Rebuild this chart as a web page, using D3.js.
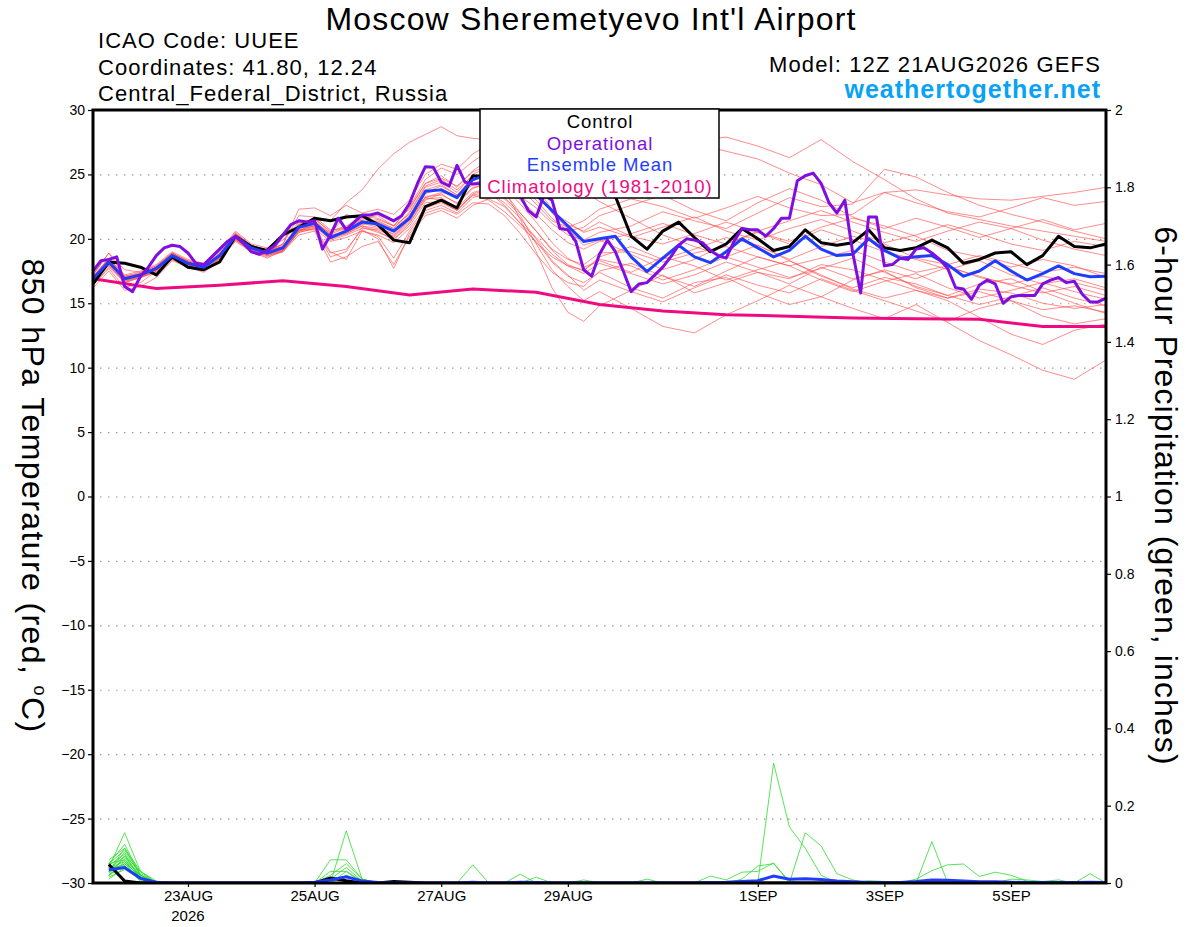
<!DOCTYPE html>
<html>
<head>
<meta charset="utf-8">
<script src="https://cdn.jsdelivr.net/npm/d3@7"></script>
<style>
  body { margin: 0; background: #fff; }
  svg { display: block; font-family: "Liberation Sans", Arial, sans-serif; }
  .tick text { font-family: "Liberation Sans Narrow", "Liberation Sans", Arial, sans-serif; }
</style>
</head>
<body>
<div id="chart"></div>
<script>
// ---- data ----
// hours since 12Z 21AUG2026
const startTime = Date.UTC(2026, 7, 21, 12);

const tempTicks = [-30, -25, -20, -15, -10, -5, 0, 5, 10, 15, 20, 25, 30];
const gridTicks = [-25, -20, -15, -10, -5, 0, 5, 10, 15, 20, 25];
const precipTicks = [0, 0.2, 0.4, 0.6, 0.8, 1, 1.2, 1.4, 1.6, 1.8, 2];
const dateTicks = ["2026-08-23", "2026-08-25", "2026-08-27", "2026-08-29", "2026-09-01", "2026-09-03", "2026-09-05"];
const dateLabels = ["23AUG", "25AUG", "27AUG", "29AUG", "1SEP", "3SEP", "5SEP"];

// 6-hourly, 0..384h
const controlTemp = [16.5,18.2,18.1,17.8,17.2,18.6,17.8,17.6,18.2,20.2,19.4,19.1,20.3,20.9,21.6,21.4,21.7,21.8,21.1,19.9,19.7,22.5,23.0,22.4,24.9,24.8,25.0,24.6,24.3,24.0,23.8,23.6,23.4,23.3,20.2,19.2,20.6,21.3,20.1,19.0,19.6,20.8,20.0,19.1,19.4,20.7,19.7,19.5,19.7,20.7,19.3,19.1,19.3,19.9,19.3,18.1,18.4,18.9,19.0,18.0,18.7,20.2,19.4,19.3,19.6];
const meanTemp = [16.9,18.2,16.9,17.2,17.7,18.7,18.1,17.8,18.7,20.2,19.3,18.9,19.3,20.9,21.2,20.1,20.6,21.3,21.15,20.6,21.6,23.7,23.8,23.2,24.6,25.0,25.0,24.3,23.4,22.2,21.0,19.8,20.0,20.2,18.6,17.45,18.5,19.5,18.6,18.15,19.0,20.0,19.3,18.6,19.1,20.2,19.2,18.7,18.8,20.0,19.1,18.5,18.6,18.7,18.0,17.1,17.5,18.3,17.5,16.8,17.3,17.9,17.3,17.06,17.1];

// 3-hourly, 0..384h
const operationalTemp = [17.5,18.3,18.4,18.6,16.3,15.9,17.1,17.8,18.7,19.3,19.5,19.4,18.9,18.1,18.0,18.6,19.2,19.8,20.2,19.65,19.0,18.8,19.1,19.5,20.3,21.1,21.4,21.3,21.4,19.2,20.3,21.6,20.7,
  21.3,21.85,21.85,22.0,21.7,21.4,21.8,22.75,24.3,25.6,25.55,24.4,24.1,25.7,24.4,24.25,24.3,
  24.6,24.9,24.7,24.0,23.3,22.2,21.7,23.4,23.0,20.8,20.7,19.8,17.6,17.1,18.8,
  19.9,19.0,17.5,15.9,16.5,16.6,17.2,17.8,18.6,19.5,20.0,19.9,19.7,19.1,18.7,18.5,19.8,20.8,20.7,20.7,20.2,20.8,21.6,21.6,24.5,24.9,25.1,24.3,22.8,22.0,23.0,18.9,15.8,21.7,21.7,17.9,18.0,18.5,18.4,19.2,19.3,18.9,18.4,17.7,16.2,16.1,15.3,16.4,16.8,16.5,15.0,15.5,15.6,15.6,15.6,16.5,16.8,17.0,16.6,16.7,15.7,15.1,15.1,15.4];

// daily at 12Z
const climatologyTemp = [16.9,16.15,16.4,16.75,16.3,15.65,16.1,15.85,14.9,14.4,14.1,14.0,13.85,13.8,13.75,13.2,13.2];

// members: 6-hourly to 192h, then 12-hourly to 384h (49 values each)
const memberTemps = [
  [17.0,18.5,17.2,17.5,18.0,19.0,18.4,18.1,19.0,20.6,19.6,19.3,19.9, 21.3,21.5,21.4,22.8,23.8,25.4,26.6,27.5,28.1,28.7,28.0,27.8,27.7,27.6,27.3,27.0,26.8,26.6,26.9,27.2, 27.5,27.9,27.4,26.8,26.2,25.1,24.2,22.8,23.6,23.8,23.4,23.1,23.0,23.3,23.6,24.0],
  [16.7,18.0,16.8,17.0,17.5,18.5,18.0,17.6,18.5,20.0,19.1,18.8,19.0, 20.6,21.0,20.0,20.8,21.6,21.8,21.0,22.5,24.6,25.5,25.0,26.0,26.8,27.2,26.5,25.8,24.9,25.5,26.4,26.0, 26.8,27.2,27.6,27.9,27.2,26.3,27.7,26.0,24.6,23.1,22.0,21.5,21.0,20.6,20.2,19.8],
  [16.2,17.5,16.0,16.3,17.0,18.3,17.8,17.4,18.3,19.9,19.0,18.5,19.1, 20.5,20.8,18.6,19.0,20.9,20.5,20.0,21.0,22.8,22.9,22.2,23.4,23.0,22.1,21.0,19.8,18.2,17.1,16.6,17.4, 16.2,15.4,16.6,17.0,15.8,14.9,15.5,14.6,13.8,14.9,13.5,12.1,11.0,9.8,9.1,10.6],
  [17.2,18.9,17.1,17.4,17.9,18.9,18.3,18.0,18.9,20.5,19.5,19.1,19.5, 21.1,21.3,20.3,20.4,21.0,20.6,19.9,21.2,23.0,23.5,22.7,23.9,24.4,23.8,21.5,19.0,16.2,14.3,13.6,14.8, 16.0,17.2,15.8,16.6,17.4,16.5,17.8,16.9,17.5,16.2,15.4,15.9,15.2,14.5,14.8,14.3],
  [16.9,18.3,16.9,17.3,17.6,18.8,18.2,17.9,18.6,20.3,19.4,19.0,19.4, 21.0,21.6,20.5,20.9,21.8,21.9,21.3,22.3,24.3,24.9,24.0,25.3,26.1,25.9,24.7,23.6,22.0,20.8,19.5,19.9, 18.8,17.6,18.4,19.6,20.5,19.8,20.9,21.6,21.0,20.2,19.1,18.6,17.8,18.4,17.9,17.0],
  [16.4,17.8,16.6,17.0,17.4,18.4,17.9,17.5,18.4,19.8,19.0,18.6,19.0, 20.3,20.6,18.2,18.6,19.4,19.8,18.0,20.2,21.8,22.2,21.6,22.6,23.1,22.5,21.2,20.1,18.8,17.9,17.3,18.1, 17.3,16.5,17.2,18.2,17.4,16.9,18.0,17.6,16.8,16.0,15.4,16.1,15.8,15.0,14.6,14.9],
  [17.1,18.4,17.0,17.1,17.8,18.9,18.2,17.9,18.8,20.4,19.5,19.0,19.6, 22.3,22.4,21.8,22.6,22.0,22.3,21.9,23.0,25.0,25.8,25.4,26.6,27.3,26.8,25.6,24.0,22.3,21.1,20.6,21.3, 20.2,19.6,20.4,21.3,20.5,19.6,20.7,19.9,19.0,18.4,17.6,18.3,17.2,16.5,16.9,16.2],
  [16.8,18.1,16.7,17.1,17.6,18.6,18.0,17.7,18.6,20.1,19.2,18.8,19.2, 20.8,21.0,19.9,20.3,20.8,20.7,20.2,21.4,23.3,23.4,22.8,24.0,24.2,23.6,22.0,20.6,19.1,18.0,17.5,18.6, 19.4,18.4,19.2,20.1,19.5,18.4,19.4,20.2,19.6,18.5,18.0,18.7,18.1,17.4,17.8,17.3],
  [17.0,18.2,16.9,17.2,17.7,18.7,18.1,17.8,18.8,20.2,19.3,18.9,19.3, 21.0,21.3,20.4,21.9,21.4,21.1,20.6,21.7,23.6,24.1,23.4,24.8,25.3,24.6,23.3,22.4,21.2,20.3,19.9,20.5, 21.0,22.1,21.4,20.8,22.0,23.2,22.5,22.7,25.4,24.8,23.6,22.6,21.9,21.3,20.6,20.0],
  [16.4,17.7,16.2,16.6,17.5,18.5,17.9,17.6,18.5,20.0,19.1,18.7,19.1, 20.6,20.9,19.0,18.4,20.6,20.2,18.5,20.6,22.2,22.6,22.0,23.2,23.6,22.8,21.6,20.0,18.3,17.2,16.0,16.8, 15.9,15.1,16.2,17.2,16.4,15.8,16.9,16.0,15.2,14.4,13.6,14.6,15.2,14.0,13.4,13.8],
  [17.1,18.5,17.1,17.3,17.8,18.8,18.2,17.9,18.7,20.3,19.4,19.1,19.4, 21.2,21.4,20.2,20.6,21.2,20.9,20.1,21.3,23.1,23.2,22.4,23.6,23.9,23.1,21.8,19.6,17.6,16.3,15.2,15.9, 14.6,13.2,12.7,14.1,15.2,16.4,15.5,16.8,17.6,16.9,17.8,17.1,16.4,15.8,16.3,15.6],
  [16.9,18.3,16.8,17.2,17.8,18.7,18.1,17.8,18.8,20.3,19.2,18.9,19.3, 21.0,21.2,20.1,20.5,21.1,21.4,20.8,22.0,24.0,24.4,23.6,25.0,25.6,25.3,24.2,23.0,21.6,20.6,20.9,21.8, 22.6,23.4,22.2,21.4,22.8,23.9,23.0,21.7,20.8,21.6,20.9,20.1,20.8,21.5,20.7,21.2],
  [16.7,18.1,16.9,17.1,17.6,18.6,18.1,17.8,18.6,20.1,19.3,18.9,19.3, 20.7,20.7,18.9,19.2,20.7,20.0,17.7,20.4,22.0,22.4,21.9,22.8,22.7,21.8,20.4,18.8,17.4,16.6,16.3,17.5, 18.1,17.1,16.3,17.5,18.6,17.9,16.8,15.9,16.7,17.3,16.2,15.4,16.0,16.6,15.9,15.3],
  [16.8,18.4,17.0,17.3,17.7,18.8,18.2,17.7,18.7,20.2,19.3,19.0,19.4, 21.1,21.5,20.6,21.0,21.7,21.6,21.0,22.4,24.3,24.7,24.1,25.2,25.7,25.2,23.9,22.7,21.4,20.9,21.4,22.3, 23.1,22.5,21.6,22.4,23.3,22.4,21.8,21.9,23.6,22.8,22.1,21.7,22.4,23.2,22.6,22.9],
  [17.0,18.2,16.8,17.2,17.6,18.6,18.0,17.8,18.6,20.0,19.2,18.8,19.2, 20.7,21.0,20.0,20.4,21.0,20.8,20.4,21.6,23.5,23.9,23.2,24.3,24.7,24.0,22.7,21.3,19.7,18.5,17.8,18.3, 17.4,18.6,17.9,16.8,17.6,18.3,17.2,16.1,15.4,16.0,15.2,13.9,12.6,11.8,12.9,13.4],
  [16.6,18.0,16.6,17.0,17.6,18.5,17.9,17.6,18.5,20.1,19.2,18.8,19.1, 20.6,21.2,20.3,20.6,21.3,21.5,21.0,21.9,23.2,23.6,23.3,24.2,24.8,24.8,24.2,23.3,22.1,21.3,20.5,20.9, 20.1,20.9,21.7,20.6,19.9,20.8,21.5,20.6,19.7,20.3,21.1,20.4,19.6,19.1,19.8,19.4],
  [17.2,18.9,17.6,17.4,17.9,18.9,18.3,18.0,18.8,20.4,19.5,19.1,19.6, 21.8,21.7,20.7,20.8,21.4,21.0,20.3,21.5,23.2,23.0,22.3,23.4,23.6,22.6,21.2,19.7,18.6,17.9,17.6,18.4, 17.9,16.8,17.6,18.6,17.8,17.0,17.7,18.5,17.4,16.3,15.6,16.5,16.9,15.9,15.0,14.2],
  [16.9,18.2,16.9,17.1,17.7,18.7,18.0,17.9,18.7,20.2,19.3,18.9,19.2, 20.9,21.1,20.1,20.6,21.3,21.2,20.7,21.8,23.8,24.2,23.4,24.6,25.5,26.0,26.3,26.1,25.4,24.3,23.7,22.9, 21.6,20.3,19.4,18.6,19.5,18.3,17.1,16.2,17.0,16.5,15.6,14.9,15.5,16.2,15.4,14.8],
  [17.0,18.4,17.0,17.2,17.8,18.8,18.1,17.8,18.8,20.3,19.3,18.9,19.4, 21.0,21.4,20.4,20.8,21.5,21.3,20.8,22.1,24.1,24.6,23.8,24.9,25.0,24.2,23.0,21.9,20.7,19.7,19.2,19.8, 20.4,21.2,20.3,19.6,20.6,21.4,22.2,21.3,20.5,19.8,20.6,21.3,20.8,19.9,19.2,18.7],
  [16.7,17.9,16.7,17.0,17.5,18.4,17.9,17.6,18.4,19.9,19.1,18.7,19.0, 20.5,20.8,19.8,20.1,20.6,20.3,19.7,20.8,22.4,22.8,22.2,23.5,23.8,23.2,22.0,20.6,19.2,18.4,18.0,18.9, 19.0,18.2,18.9,19.4,18.6,17.9,18.5,19.1,18.2,17.4,17.9,17.0,16.5,17.1,16.6,16.0]
];

// 6-hour precipitation (inches), steps 1..64 (6h each)
const controlPrecip = [0.048,0.005,0,0,0,0,0,0,0,0,0,0,0,0,0.013,0.006,0,0,0.004,0.002,
  0,0,0,0,0,0,0,0,0,0,0,0,0,0,0,0,0,0,0,0,0,0,0,0,0,0,0,0,0,0,0,0,0,0,0,0,0,0,0,0,0,0,0,0];
const meanPrecip = [0.034,0.040,0.012,0.002, 0,0,0,0,0,0,0,0,0, 0.002,0.008,0.016,0.005,0.001, 0,0,0,0,0,
  0.002,0,0,0.002,0.001, 0,0,0,0,0,0,0,0,0,0,
  0.001,0.002,0.004,0.006,0.018,0.010,0.011,0.009,0.005,0.003,0.001,0.001,0.001,0.004,0.008,0.007,0.005,0.003,0.003,0.002,0.001,0.001,0.001,0.001,0.002,0.001];
// members: [step, inches], zero stretches only marked at their ends
const memberPrecip = [
  [[1,0.04],[2,0.13],[3,0.03],[4,0],[14,0],[15,0.06],[16,0.06],[17,0.01],[18,0],[64,0]],
  [[1,0.06],[2,0.09],[3,0.02],[4,0],[15,0],[16,0.135],[17,0.01],[18,0],[64,0]],
  [[1,0.03],[2,0.08],[3,0.02],[4,0],[14,0],[15,0.02],[16,0.05],[17,0.01],[18,0],[64,0]],
  [[1,0.02],[2,0.07],[3,0.03],[4,0.005],[5,0],[14,0],[15,0.01],[16,0.04],[17,0.005],[18,0],[23,0],[24,0.047],[25,0],[64,0]],
  [[1,0.05],[2,0.06],[3,0.02],[4,0],[14,0],[15,0.03],[16,0.03],[17,0],[26,0],[27,0.023],[28,0],[64,0]],
  [[1,0.03],[2,0.05],[3,0.01],[4,0],[15,0],[16,0.02],[17,0],[27,0],[28,0.015],[29,0],[42,0],[43,0.31],[44,0.145],[45,0.09],[46,0.02],[47,0],[64,0]],
  [[1,0.04],[2,0.055],[3,0.015],[4,0],[15,0],[16,0.03],[17,0.005],[18,0],[44,0],[45,0.13],[46,0.096],[47,0.024],[48,0.008],[49,0],[64,0]],
  [[1,0.01],[2,0.04],[3,0.01],[4,0],[38,0],[39,0.018],[40,0.008],[41,0.028],[42,0.03],[43,0.052],[44,0],[64,0]],
  [[1,0.02],[2,0.05],[3,0.02],[4,0],[40,0],[41,0.01],[42,0.044],[43,0.05],[44,0.005],[45,0],[52,0],[53,0.107],[54,0],[64,0]],
  [[1,0.03],[2,0.06],[3,0.01],[4,0],[51,0],[52,0.01],[53,0.032],[54,0.047],[55,0.049],[56,0.017],[57,0.028],[58,0.02],[59,0.005],[60,0],[64,0]],
  [[1,0.05],[2,0.1],[3,0.02],[4,0],[30,0],[31,0.008],[32,0],[62,0],[63,0.024],[64,0]],
  [[1,0.02],[2,0.045],[3,0.005],[4,0],[34,0],[35,0.01],[36,0],[48,0],[49,0.006],[50,0.004],[51,0],[57,0],[58,0.01],[59,0.008],[60,0.004],[61,0.008],[62,0],[64,0]],
  [[1,0.035],[2,0.07],[3,0.015],[4,0],[64,0]],
  [[1,0.025],[2,0.065],[3,0.02],[4,0],[64,0]],
  [[1,0.045],[2,0.075],[3,0.01],[4,0],[64,0]],
  [[1,0.015],[2,0.035],[3,0.01],[4,0],[64,0]],
  [[1,0.05],[2,0.085],[3,0.025],[4,0],[64,0]],
  [[1,0.02],[2,0.055],[3,0.015],[4,0],[64,0]],
  [[1,0.04],[2,0.045],[3,0.005],[4,0],[64,0]],
  [[1,0.03],[2,0.09],[3,0.03],[4,0],[64,0]]
];

// ---- chart ----
const width = 1200;
const height = 927;
const plot = { left: 93, right: 1106, top: 110, bottom: 883 };

const toDate = (h) => new Date(startTime + h * 3600e3);
const memberHours = d3.range(0, 193, 6).concat(d3.range(204, 385, 12));

const xScale = d3.scaleUtc()
    .domain([toDate(0), toDate(384)])
    .range([plot.left, plot.right]);
const yTemp = d3.scaleLinear().domain([-30, 30]).range([plot.bottom, plot.top]);
const yPrecip = d3.scaleLinear().domain([0, 2]).range([plot.bottom, plot.top]);

const svg = d3.select("#chart").append("svg")
    .attr("width", width)
    .attr("height", height);

svg.append("clipPath").attr("id", "plot-clip")
    .append("rect")
    .attr("x", plot.left).attr("y", plot.top)
    .attr("width", plot.right - plot.left).attr("height", plot.bottom - plot.top);

// gridlines
svg.append("g")
    .attr("class", "gridlines")
    .attr("transform", `translate(${plot.left + 7},0)`)
    .call(d3.axisLeft(yTemp).tickValues(gridTicks).tickFormat("").tickSize(-(plot.right - plot.left - 7)))
    .call(g => g.select(".domain").remove())
    .call(g => g.selectAll("line").attr("stroke", "#9a9a9a").attr("stroke-width", 1.2).attr("stroke-dasharray", "1.5,6.5"));

const lines = svg.append("g").attr("clip-path", "url(#plot-clip)");

const tempLine = (hours) => d3.line()
    .x((d, i) => xScale(toDate(hours[i])))
    .y(d => yTemp(d));

// ensemble members, temperature
lines.append("g").selectAll("path")
    .data(memberTemps)
    .join("path")
    .attr("d", tempLine(memberHours))
    .attr("fill", "none")
    .attr("stroke", "#ff4a4a")
    .attr("stroke-opacity", 0.85)
    .attr("stroke-width", 0.75);

// ensemble members, precipitation
const precipPairLine = d3.line()
    .x(d => xScale(toDate(d[0] * 6)))
    .y(d => yPrecip(d[1]));

lines.append("g").selectAll("path")
    .data(memberPrecip)
    .join("path")
    .attr("d", precipPairLine)
    .attr("fill", "none")
    .attr("stroke", "#2fdc2f")
    .attr("stroke-width", 0.8);

const precipLine = d3.line()
    .x((d, i) => xScale(toDate((i + 1) * 6)))
    .y(d => yPrecip(d));

// climatology
const climHours = climatologyTemp.map((d, i) => i * 24);
lines.append("path")
    .datum(climatologyTemp)
    .attr("d", tempLine(climHours))
    .attr("fill", "none")
    .attr("stroke", "#ef0a82")
    .attr("stroke-width", 3);

// control
const sixHours = controlTemp.map((d, i) => i * 6);
lines.append("path")
    .datum(controlTemp)
    .attr("d", tempLine(sixHours))
    .attr("fill", "none")
    .attr("stroke", "#000")
    .attr("stroke-width", 3)
    .attr("stroke-linejoin", "round");

lines.append("path")
    .datum(controlPrecip)
    .attr("d", precipLine)
    .attr("fill", "none")
    .attr("stroke", "#000")
    .attr("stroke-width", 3);

// ensemble mean
lines.append("path")
    .datum(meanTemp)
    .attr("d", tempLine(sixHours))
    .attr("fill", "none")
    .attr("stroke", "#1f3dff")
    .attr("stroke-width", 3)
    .attr("stroke-linejoin", "round");

lines.append("path")
    .datum(meanPrecip)
    .attr("d", precipLine)
    .attr("fill", "none")
    .attr("stroke", "#1f3dff")
    .attr("stroke-width", 3);

// operational
const threeHours = operationalTemp.map((d, i) => i * 3);
lines.append("path")
    .datum(operationalTemp)
    .attr("d", tempLine(threeHours))
    .attr("fill", "none")
    .attr("stroke", "#7f0fe0")
    .attr("stroke-width", 3)
    .attr("stroke-linejoin", "round");

// axes
const tickFont = g => g.selectAll("text")
    .attr("font-size", 14)
    .attr("fill", "#000");

svg.append("g")
    .attr("transform", `translate(${plot.left},0)`)
    .call(d3.axisLeft(yTemp).tickValues(tempTicks).tickSize(5).tickSizeOuter(0).tickPadding(3))
    .call(g => g.select(".domain").remove())
    .call(g => g.selectAll("line").attr("stroke-width", 1.2))
    .call(tickFont);

svg.append("g")
    .attr("transform", `translate(${plot.right},0)`)
    .call(d3.axisRight(yPrecip).tickValues(precipTicks).tickSize(5).tickSizeOuter(0).tickPadding(4)
        .tickFormat(d => d3.format("~g")(d)))
    .call(g => g.select(".domain").remove())
    .call(g => g.selectAll("line").attr("stroke-width", 1.2))
    .call(tickFont);

svg.append("g")
    .attr("transform", `translate(0,${plot.bottom})`)
    .call(d3.axisBottom(xScale)
        .tickValues(dateTicks.map(d => new Date(d + "T00:00Z")))
        .tickFormat((d, i) => dateLabels[i])
        .tickSize(4).tickSizeOuter(0).tickPadding(3))
    .call(g => g.select(".domain").remove())
    .call(g => g.selectAll("line").attr("stroke-width", 1.2))
    .call(g => g.selectAll("text").attr("font-size", 15).attr("fill", "#000"));

svg.append("text")
    .attr("x", xScale(new Date(dateTicks[0] + "T00:00Z")))
    .attr("y", 921)
    .attr("text-anchor", "middle")
    .attr("font-family", "'Liberation Sans Narrow', 'Liberation Sans', Arial, sans-serif")
    .attr("font-size", 15)
    .text("2026");

// frame
svg.append("rect")
    .attr("x", plot.left).attr("y", plot.top)
    .attr("width", plot.right - plot.left).attr("height", plot.bottom - plot.top)
    .attr("fill", "none")
    .attr("stroke", "#000")
    .attr("stroke-width", 3);

// legend
const legend = svg.append("g");
legend.append("rect")
    .attr("x", 480).attr("y", plot.top - 1)
    .attr("width", 239).attr("height", 89)
    .attr("fill", "#fff")
    .attr("stroke", "#000")
    .attr("stroke-width", 1.5);

const legendItems = [
    { label: "Control", color: "#000" },
    { label: "Operational", color: "#7f0fe0" },
    { label: "Ensemble Mean", color: "#1f3dff" },
    { label: "Climatology (1981-2010)", color: "#ef0a82" }
];
legend.selectAll("text.item")
    .data(legendItems)
    .join("text")
    .attr("class", "item")
    .attr("x", 600)
    .attr("y", (d, i) => 128 + i * 21.5)
    .attr("text-anchor", "middle")
    .attr("font-size", 18.5)
    .attr("letter-spacing", 1)
    .attr("fill", d => d.color)
    .text(d => d.label);

// titles
svg.append("text")
    .attr("x", 591).attr("y", 30)
    .attr("text-anchor", "middle")
    .attr("font-size", 32)
    .attr("letter-spacing", 1.2)
    .text("Moscow Sheremetyevo Int'l Airport");

const info = ["ICAO Code: UUEE", "Coordinates: 41.80, 12.24", "Central_Federal_District, Russia"];
svg.selectAll("text.info")
    .data(info)
    .join("text")
    .attr("class", "info")
    .attr("x", 98)
    .attr("y", (d, i) => 48 + i * 26.5)
    .attr("font-size", 22)
    .attr("letter-spacing", 1.05)
    .text(d => d);

svg.append("text")
    .attr("x", 1101).attr("y", 72)
    .attr("text-anchor", "end")
    .attr("font-size", 22)
    .attr("letter-spacing", 1.15)
    .text("Model: 12Z 21AUG2026 GEFS");

svg.append("text")
    .attr("x", 1101).attr("y", 98)
    .attr("text-anchor", "end")
    .attr("font-size", 25)
    .attr("font-weight", "bold")
    .attr("letter-spacing", 1)
    .attr("fill", "#0aa2f5")
    .text("weathertogether.net");

// axis titles
const leftTitle = svg.append("text")
    .attr("transform", "translate(22,496) rotate(90)")
    .attr("text-anchor", "middle")
    .attr("font-size", 32)
    .attr("letter-spacing", 1.4);
leftTitle.append("tspan").text("850 hPa Temperature (red, ");
leftTitle.append("tspan").attr("dy", -12).attr("font-size", 18).text("o");
leftTitle.append("tspan").attr("dy", 12).text("C)");

svg.append("text")
    .attr("transform", "translate(1155,496) rotate(90)")
    .attr("text-anchor", "middle")
    .attr("font-size", 32)
    .attr("letter-spacing", 1.1)
    .text("6-hour Precipitation (green, inches)");
</script>
</body>
</html>
